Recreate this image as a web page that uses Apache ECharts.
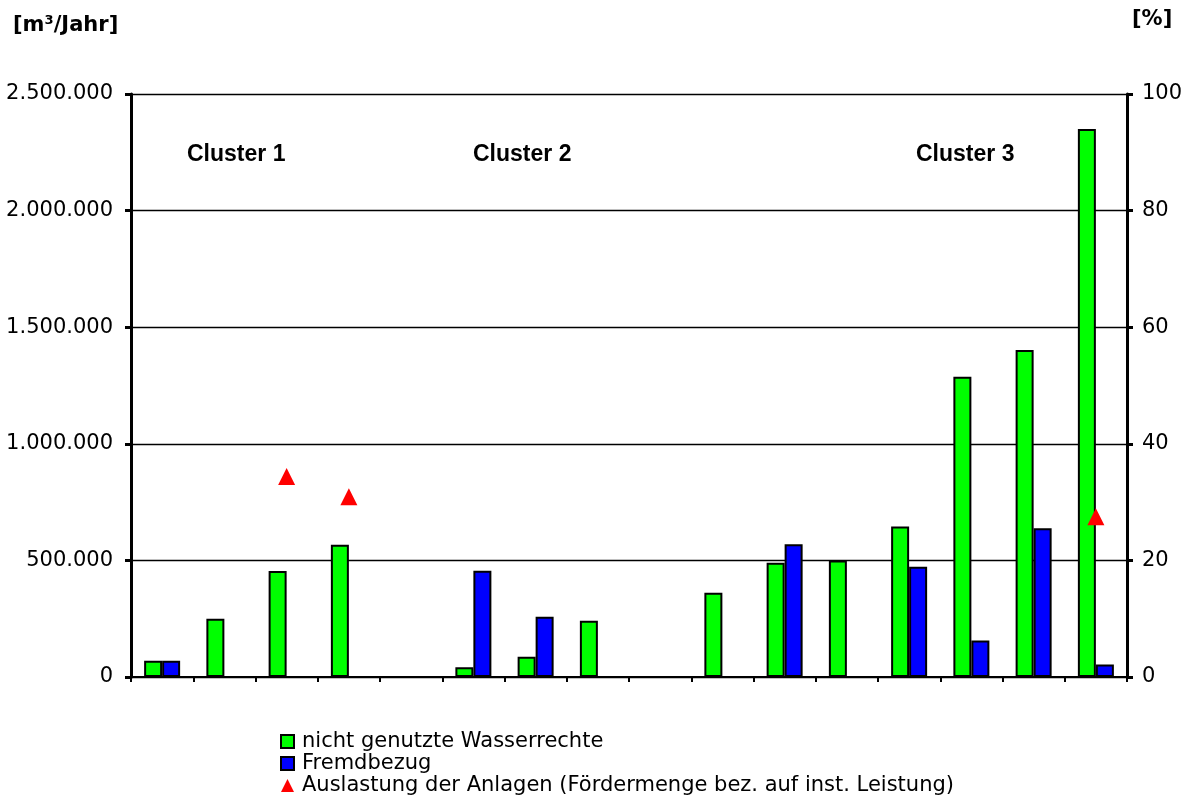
<!DOCTYPE html>
<html>
<head>
<meta charset="utf-8">
<script src="https://cdn.jsdelivr.net/npm/echarts@6/dist/echarts.min.js"></script>
<style>html,body{margin:0;padding:0;background:#fff;}#c{width:1196px;height:807px;}</style>
</head>
<body>
<div id="c"></div>
<script>
// categories (16 Anlagen, no tick labels shown)
const categories = ['A1','A2','A3','A4','A5','A6','A7','A8','A9','A10','A11','A12','A13','A14','A15','A16'];
// nicht genutzte Wasserrechte [m³/Jahr]
const wasserrechte = [70000, 250000, 455000, 567000, null, 42000, 87000, 241000, null, 361000, 490000, 500000, 645000, 1288000, 1402000, 2350000];
// Fremdbezug [m³/Jahr]
const fremdbezug = [70000, null, null, null, null, 456000, 258000, null, null, null, 569000, null, 473000, 156000, 638000, 54000];
// Auslastung der Anlagen [%]
const auslastung = [null, null, 34.4, 30.9, null, null, null, null, null, null, null, null, null, null, null, 27.5];
const clusterLabels = ['Cluster 1', 'Cluster 2', 'Cluster 3'];
const seriesNames = ['nicht genutzte Wasserrechte', 'Fremdbezug', 'Auslastung der Anlagen (Fördermenge bez. auf inst. Leistung)'];

const FONT = 'DejaVu Sans';
const fmt = v => String(v).replace(/\B(?=(\d{3})+(?!\d))/g, '.');

const chart = echarts.init(document.getElementById('c'), null, {renderer: 'canvas'});
chart.setOption({
  animation: false,
  backgroundColor: '#ffffff',
  textStyle: {fontFamily: FONT},
  title: [
    {text: '[m³/Jahr]', left: 13, top: 15, textStyle: {fontFamily: FONT, fontWeight: 'bold', fontSize: 21, color: '#000'}, padding: 0},
    {text: '[%]', left: 1132, top: 9, textStyle: {fontFamily: FONT, fontWeight: 'bold', fontSize: 21, color: '#000'}, padding: 0}
  ],
  grid: {left: 131, right: 69, top: 94, bottom: 130, containLabel: false},
  legend: {
    orient: 'vertical', left: 280, top: 731, itemGap: 1, itemWidth: 13, itemHeight: 13,
    padding: 0,
    textStyle: {fontFamily: FONT, fontSize: 21, color: '#000', padding: [0, 0, 0, 3]},
    data: [
      {name: seriesNames[0], icon: 'rect'},
      {name: seriesNames[1], icon: 'rect'},
      {name: seriesNames[2], icon: 'triangle'}
    ],
    selectedMode: false
  },
  xAxis: {
    type: 'category', data: categories,
    axisLine: {lineStyle: {color: '#000', width: 2}},
    axisTick: {show: true, interval: 0, length: 5, lineStyle: {color: '#000', width: 2}},
    axisLabel: {show: false},
    splitLine: {show: false}
  },
  yAxis: [
    {
      type: 'value', min: 0, max: 2500000, interval: 500000,
      axisLine: {show: true, lineStyle: {color: '#000', width: 3}},
      axisTick: {show: true, length: 6, lineStyle: {color: '#000', width: 3}},
      axisLabel: {formatter: fmt, fontFamily: FONT, fontSize: 21, color: '#000', margin: 18},
      splitLine: {show: true, lineStyle: {color: '#000', width: 1.3}}
    },
    {
      type: 'value', min: 0, max: 100, interval: 20, position: 'right',
      axisLine: {show: true, lineStyle: {color: '#000', width: 3}},
      axisTick: {show: true, length: 6, lineStyle: {color: '#000', width: 3}},
      axisLabel: {fontFamily: FONT, fontSize: 21, color: '#000', margin: 15},
      splitLine: {show: false}
    }
  ],
  series: [
    {
      name: seriesNames[0], type: 'bar', data: wasserrechte, barWidth: 18, barGap: '0%',
      itemStyle: {color: '#00ff00', borderColor: '#000', borderWidth: 2}
    },
    {
      name: seriesNames[1], type: 'bar', data: fremdbezug, barWidth: 18, barGap: '0%',
      itemStyle: {color: '#0000ff', borderColor: '#000', borderWidth: 2}
    },
    {
      name: seriesNames[2], type: 'scatter', yAxisIndex: 1, data: auslastung,
      symbol: 'triangle', symbolSize: 17,
      itemStyle: {color: '#ff0000', opacity: 1}
    }
  ],
  graphic: [
    {type: 'text', left: 187, top: 143, style: {text: clusterLabels[0], font: 'bold 23px "Liberation Sans", Arial', fill: '#000'}},
    {type: 'text', left: 473, top: 143, style: {text: clusterLabels[1], font: 'bold 23px "Liberation Sans", Arial', fill: '#000'}},
    {type: 'text', left: 916, top: 143, style: {text: clusterLabels[2], font: 'bold 23px "Liberation Sans", Arial', fill: '#000'}}
  ]
});
</script>
</body>
</html>
